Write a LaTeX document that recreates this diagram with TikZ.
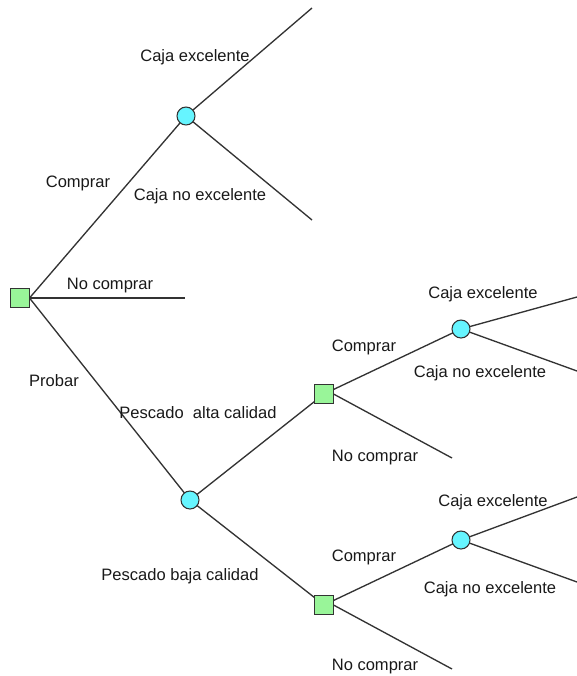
\documentclass[tikz,border=0pt]{standalone}
\usepackage{fontspec}
\setmainfont{Liberation Sans}
\definecolor{decfill}{HTML}{99F599}
\definecolor{chfill}{HTML}{66F5FF}
\definecolor{edgec}{HTML}{333333}
\begin{document}
\begin{tikzpicture}[x=0.75pt,y=-0.75pt,
    decision/.style={draw=edgec,fill=decfill,line width=0.8pt,minimum size=14pt,inner sep=0pt},
    chance/.style={circle,draw=edgec,fill=chfill,line width=0.8pt,minimum size=13.5pt,inner sep=0pt},
    lbl/.style={font=\fontsize{12.4}{14}\selectfont,inner sep=0pt,yshift=-1.3pt,text=black!90}]
      \useasboundingbox (0,0) rectangle (577,676);
      % end points
      \draw
        (312,8) coordinate (e1)
        (312,220) coordinate (e2)
        (185,298) coordinate (e3)
        (577,297) coordinate (e4)
        (577,371) coordinate (e5)
        (452,458) coordinate (e6)
        (577,497) coordinate (e7)
        (577,582) coordinate (e8)
        (452,669) coordinate (e9);
      \begin{scope}[edgec,line width=1pt]
        \draw (20,298) coordinate (d0p) (186,116) coordinate (c1p)
          (190,500) coordinate (c2p) (324,394) coordinate (d1p)
          (324,605) coordinate (d2p) (461,329) coordinate (c3p)
          (461,540) coordinate (c4p);
        \draw (d0p) ++(9.5,0) coordinate (d0e) -- (c1p);
        \draw (d0e) -- (e3);
        \draw (d0e) -- (c2p);
        \draw (c1p) -- (e1);
        \draw (c1p) -- (e2);
        \draw (c2p) -- (d1p);
        \draw (c2p) -- (d2p);
        \draw (d1p) -- (c3p);
        \draw (d1p) ++(9.5,0) -- (e6);
        \draw (c3p) -- (e4);
        \draw (c3p) -- (e5);
        \draw (d2p) -- (c4p);
        \draw (d2p) ++(9.5,0) -- (e9);
        \draw (c4p) -- (e7);
        \draw (c4p) -- (e8);
      \end{scope}
      % nodes
      \node[decision] (d0) at (d0p) {};
      \node[chance] (c1) at (c1p) {};
      \node[chance] (c2) at (c2p) {};
      \node[decision] (d1) at (d1p) {};
      \node[decision] (d2) at (d2p) {};
      \node[chance] (c3) at (c3p) {};
      \node[chance] (c4) at (c4p) {};
      % labels
      \node[lbl] (l1) at (195,55) {Caja excelente};
      \node[lbl] (l2) at (200,194) {Caja no excelente};
      \node[lbl] (l3) at (78,182) {Comprar};
      \node[lbl] (l4) at (110,284) {No comprar};
      \node[lbl] (l5) at (54,379) {Probar};
      \node[lbl] (l6) at (198,411) {Pescado\ \ alta calidad};
      \node[lbl] (l7) at (180,574) {Pescado baja calidad};
      \node[lbl] (l8) at (364,346) {Comprar};
      \node[lbl] (l9) at (375,456) {No comprar};
      \node[lbl] (l10) at (483,292) {Caja excelente};
      \node[lbl] (l11) at (480,371) {Caja no excelente};
      \node[lbl] (l12) at (364,556) {Comprar};
      \node[lbl] (l13) at (375,665) {No comprar};
      \node[lbl] (l14) at (493,500) {Caja excelente};
      \node[lbl] (l15) at (490,587) {Caja no excelente};
\end{tikzpicture}
\end{document}
